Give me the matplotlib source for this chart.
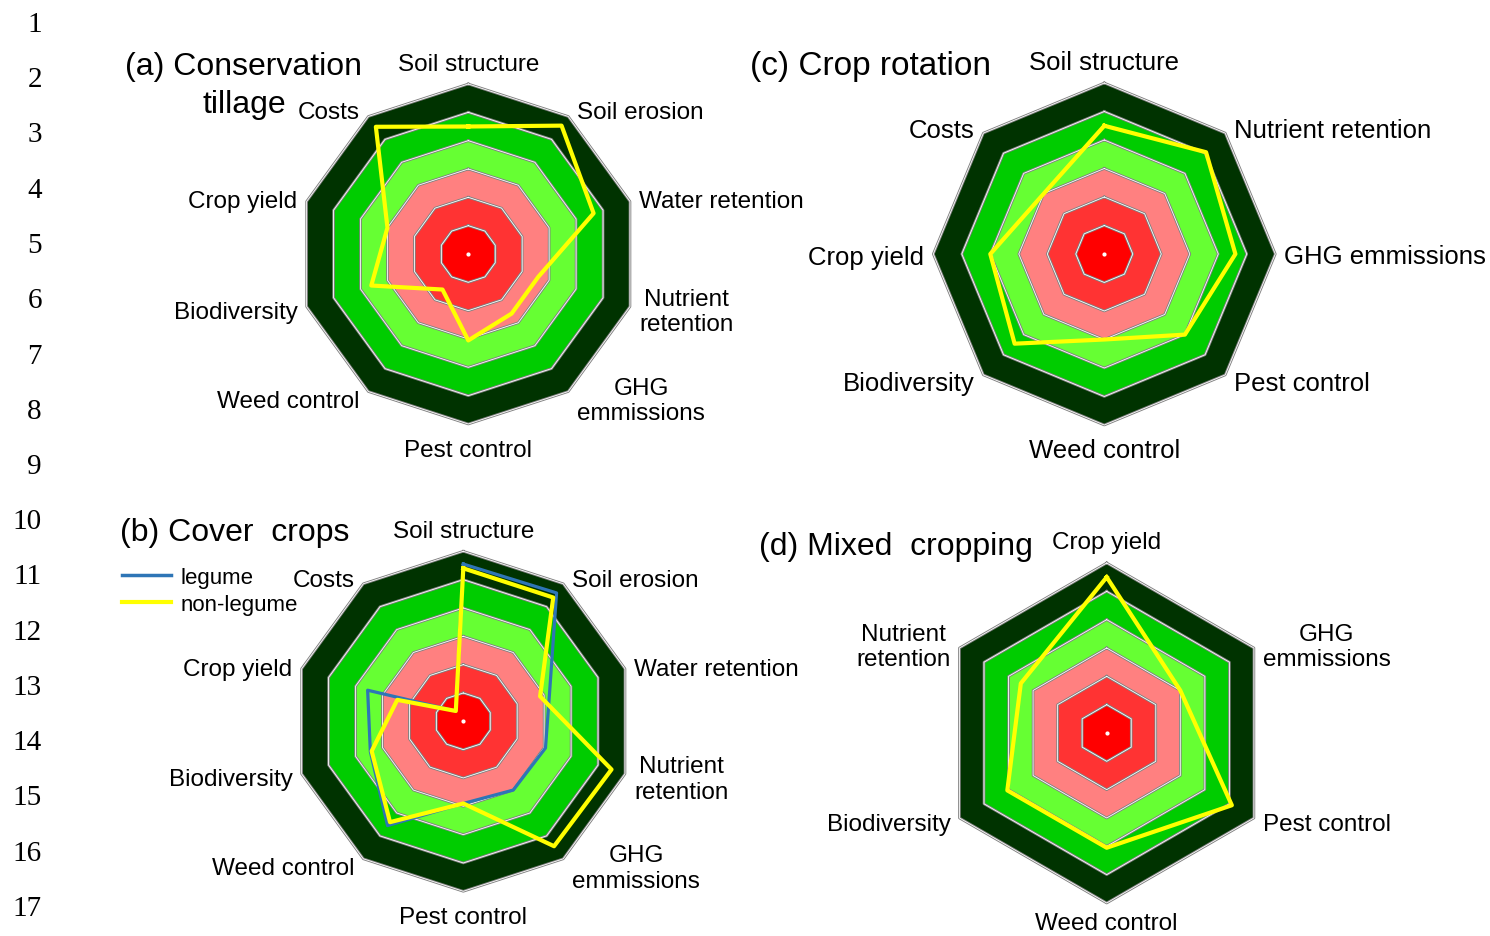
import numpy as np
import matplotlib.pyplot as plt
from matplotlib.lines import Line2D

W, H = 1490, 937
plt.rcParams['font.family'] = ['Liberation Sans', 'DejaVu Sans']

# score bands from the centre outwards (0-1, 1-2, ... 5-6)
band_colors = ['#FF0000', '#FF3333', '#FF8080', '#66FF33', '#00CC00', '#003300']

# (a) conservation tillage
labels_a = ['Soil structure', 'Soil erosion', 'Water retention', 'Nutrient\nretention',
            'GHG\nemmissions', 'Pest control', 'Weed control', 'Biodiversity',
            'Crop yield', 'Costs']
tillage = [4.5, 5.6, 4.65, 2.6, 2.6, 3.05, 1.55, 3.6, 3.0, 5.55]

# (b) cover crops
labels_b = labels_a
legume = [5.55, 5.6, 3.2, 3.05, 3.0, 2.9, 4.55, 3.45, 3.55, 0.45]
non_legume = [5.4, 5.4, 2.85, 5.5, 5.45, 2.9, 4.4, 3.4, 2.45, 0.45]

# (c) crop rotation
labels_c = ['Soil structure', 'Nutrient retention', 'GHG emmissions', 'Pest control',
            'Weed control', 'Biodiversity', 'Crop yield', 'Costs']
rotation = [4.5, 5.05, 4.6, 4.0, 3.0, 4.45, 4.0, 3.0]

# (d) mixed cropping
labels_d = ['Crop yield', 'GHG\nemmissions', 'Pest control', 'Weed control',
            'Biodiversity', 'Nutrient\nretention']
mixed = [5.5, 3.0, 5.1, 4.05, 4.05, 3.5]

YELLOW = '#FFFF00'
BLUE = '#2E75B6'

fig = plt.figure(figsize=(W / 100, H / 100), dpi=100)


def radar(cx, cy, R, labels, series, fs, bottom_gap=23):
    # polar axes placed by pixel centre / radius, r = 6 on the outer edge
    ax = fig.add_axes([(cx - R) / W, 1 - (cy + R) / H, 2 * R / W, 2 * R / H],
                      projection='polar')
    ax.set_theta_zero_location('N')
    ax.set_theta_direction(-1)
    ax.set_ylim(0, 6)
    ax.axis('off')
    n = len(labels)
    th = np.linspace(0, 2 * np.pi, n, endpoint=False)
    th_c = np.append(th, th[0])
    for k in range(6, 0, -1):
        ax.fill(th_c, np.full(n + 1, k), color=band_colors[k - 1], lw=0, zorder=1)
    for k in range(1, 7):
        ax.plot(th_c, np.full(n + 1, k), color='#808080', lw=1.9, zorder=2, clip_on=False)
        ax.plot(th_c, np.full(n + 1, k), color='white', lw=0.6, zorder=2, clip_on=False)
    ax.plot(0, 0, 'o', color='white', ms=2, zorder=3)
    for vals, col, lw in series:
        v = np.append(vals, vals[0])
        ax.plot(th_c, v, color=col, lw=lw, zorder=4, clip_on=False)
    for t, lab in zip(th, labels):
        c, s = np.sin(t), np.cos(t)
        if abs(c) < 0.01:
            dx, ha = 0, 'center'
            dy = 23 if s > 0 else -bottom_gap
        else:
            dx, dy = 9 * np.sign(c), 8 * s
            ha = 'left' if c > 0 else 'right'
        dy -= 2.5
        ax.annotate(lab, xy=(t, 6), xytext=(dx * 0.72, dy * 0.72),
                    textcoords='offset points', ha=ha, va='center',
                    multialignment='center', fontsize=fs, annotation_clip=False)
    return ax


radar(468.3, 255, 170, labels_a, [(tillage, YELLOW, 3.0)], 17.5)
radar(463.3, 722.3, 170, labels_b, [(legume, BLUE, 2.3), (non_legume, YELLOW, 3.0)], 17.5)
radar(1104.3, 255, 171, labels_c, [(rotation, YELLOW, 3.0)], 18.5)
radar(1106.7, 734, 170, labels_d, [(mixed, YELLOW, 3.0)], 17.5, bottom_gap=18)


def ftext(x, y, s, **kw):
    fig.text(x / W, 1 - y / H, s, **kw)


ftext(125, 67.5, '(a) Conservation', ha='left', va='center', fontsize=23)
ftext(244, 104.5, 'tillage', ha='center', va='center', fontsize=23)
ftext(120, 532.5, '(b) Cover  crops', ha='left', va='center', fontsize=23)
ftext(750, 66.5, '(c) Crop rotation', ha='left', va='center', fontsize=24)
ftext(759, 546.5, '(d) Mixed  cropping', ha='left', va='center', fontsize=23)

handles = [Line2D([], [], color=BLUE, lw=2.5), Line2D([], [], color=YELLOW, lw=3.0)]
fig.legend(handles, ['legume', 'non-legume'], loc='upper left',
           bbox_to_anchor=(122 / W, 1 - 568 / H), frameon=False, fontsize=16,
           handlelength=2.2, handletextpad=0.45, labelspacing=0.28,
           borderpad=0, borderaxespad=0)

# line numbers down the left margin
for i in range(1, 18):
    ftext(42, 25 + (i - 1) * 55.25, str(i), ha='right', va='center',
          family='Liberation Serif', fontsize=21)

fig.savefig('out.png', dpi=100)
